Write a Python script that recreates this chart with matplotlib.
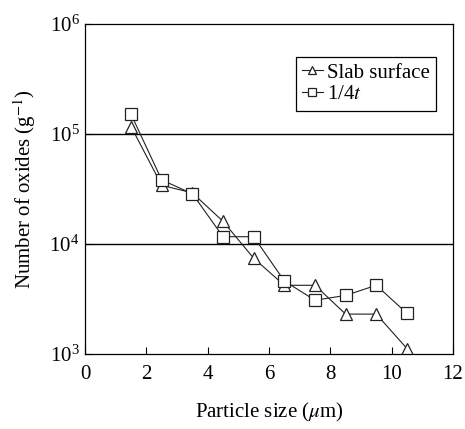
import numpy as np
import matplotlib.pyplot as plt
from matplotlib.ticker import LogLocator, NullLocator, FixedLocator

plt.rcParams["font.family"] = ["Liberation Serif", "DejaVu Serif"]
plt.rcParams["mathtext.fontset"] = "stix"

particle_size = [1.5, 2.5, 3.5, 4.5, 5.5, 6.5, 7.5, 8.5, 9.5, 10.5]
slab_surface = [1.16e5, 3.4e4, 2.9e4, 1.6e4, 7.4e3, 4.2e3, 4.2e3, 2.3e3, 2.3e3, 1.12e3]
quarter_t = [1.5e5, 3.8e4, 2.85e4, 1.16e4, 1.16e4, 4.6e3, 3.07e3, 3.4e3, 4.2e3, 2.34e3]

fig = plt.figure(figsize=(4.65, 4.29), dpi=100)
ax = fig.add_axes([0.183, 0.175, 0.791, 0.77])

ax.plot(particle_size, slab_surface, color="#222222", lw=0.8, marker="^",
        ms=8, mfc="white", mec="#222222", mew=0.9, label="Slab surface")
ax.plot(particle_size, quarter_t, color="#222222", lw=0.8, marker="s",
        ms=8, mfc="white", mec="#222222", mew=0.9, label="1/4$t$")

ax.set_yscale("log")
ax.set_ylim(1e3, 1e6)
ax.set_xlim(0, 12)
ax.xaxis.set_major_locator(FixedLocator([0, 2, 4, 6, 8, 10, 12]))
ax.yaxis.set_major_locator(LogLocator(base=10, numticks=10))
ax.yaxis.set_minor_locator(NullLocator())

# horizontal reference lines at the inner decades
for y in [1e4, 1e5]:
    ax.axhline(y, color="black", lw=1.0, zorder=0)

ax.tick_params(direction="in", length=5, width=0.8, labelsize=15, pad=8)
ax.tick_params(axis="y", pad=4)
for s in ax.spines.values():
    s.set_linewidth(0.9)

ax.set_xlabel("Particle size ($\\mu$m)", fontsize=15, labelpad=12)
ax.set_ylabel("Number of oxides (g$^{-1}$)", fontsize=15, labelpad=8)

leg = ax.legend(loc="upper right", bbox_to_anchor=(0.954, 0.899), fontsize=15,
                handlelength=1.0, handletextpad=0.2, borderpad=0.3,
                borderaxespad=0, labelspacing=0.1, fancybox=False,
                edgecolor="black", framealpha=1, markerscale=0.7)
leg.get_frame().set_linewidth(0.9)

plt.savefig("out.png")
